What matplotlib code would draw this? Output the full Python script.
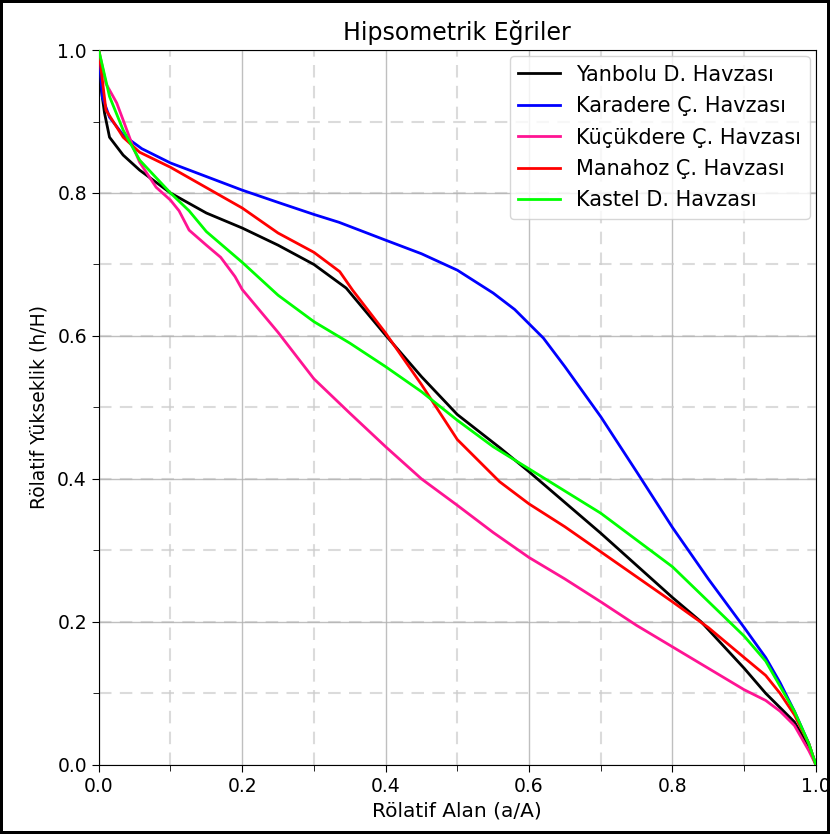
import matplotlib
matplotlib.use("Agg")
import matplotlib.pyplot as plt
from matplotlib.ticker import MultipleLocator

# Data (relative area a/A, relative height h/H)
yanbolu_x = [0, 0.008, 0.015, 0.034, 0.057, 0.1, 0.15, 0.2, 0.25, 0.3, 0.345, 0.4, 0.45, 0.5, 0.56, 0.6, 0.7, 0.8, 0.84, 0.9, 0.93, 0.95, 0.97, 0.99, 1.0]
yanbolu_y = [0.97, 0.912, 0.878, 0.853, 0.832, 0.800, 0.772, 0.751, 0.727, 0.700, 0.667, 0.601, 0.543, 0.490, 0.443, 0.410, 0.324, 0.234, 0.200, 0.135, 0.100, 0.080, 0.060, 0.025, 0.0]

karadere_x = [0, 0.005, 0.015, 0.034, 0.06, 0.1, 0.2, 0.2525, 0.3, 0.335, 0.4, 0.45, 0.5, 0.55, 0.58, 0.6, 0.62, 0.65, 0.7, 0.75, 0.8, 0.85, 0.9, 0.93, 0.95, 0.97, 0.99, 1.0]
karadere_y = [1.0, 0.934, 0.906, 0.881, 0.862, 0.842, 0.804, 0.786, 0.770, 0.759, 0.734, 0.715, 0.692, 0.660, 0.637, 0.617, 0.597, 0.557, 0.487, 0.410, 0.332, 0.260, 0.192, 0.150, 0.115, 0.075, 0.030, 0.0]

kucukdere_x = [0, 0.01, 0.025, 0.034, 0.048, 0.057, 0.08, 0.1, 0.112, 0.126, 0.15, 0.17, 0.19, 0.2, 0.25, 0.3, 0.35, 0.4, 0.45, 0.5, 0.55, 0.6, 0.65, 0.7, 0.75, 0.8, 0.85, 0.9, 0.93, 0.95, 0.97, 0.99, 1.0]
kucukdere_y = [1.0, 0.953, 0.926, 0.902, 0.864, 0.843, 0.808, 0.790, 0.775, 0.748, 0.727, 0.710, 0.683, 0.665, 0.605, 0.540, 0.492, 0.445, 0.400, 0.363, 0.325, 0.290, 0.260, 0.228, 0.195, 0.165, 0.135, 0.105, 0.090, 0.075, 0.055, 0.020, 0.0]

manahoz_x = [0, 0.01, 0.034, 0.057, 0.1, 0.2, 0.25, 0.3, 0.336, 0.354, 0.4, 0.45, 0.5, 0.559, 0.6, 0.65, 0.7, 0.75, 0.8, 0.85, 0.9, 0.93, 0.95, 0.97, 0.99, 1.0]
manahoz_y = [1.0, 0.916, 0.878, 0.857, 0.836, 0.779, 0.744, 0.717, 0.690, 0.664, 0.604, 0.532, 0.455, 0.396, 0.365, 0.333, 0.298, 0.263, 0.228, 0.192, 0.150, 0.125, 0.100, 0.070, 0.030, 0.0]

kastel_x = [0, 0.015, 0.034, 0.057, 0.1, 0.126, 0.15, 0.2, 0.25, 0.3, 0.35, 0.4, 0.45, 0.5, 0.55, 0.6, 0.7, 0.8, 0.9, 0.93, 0.95, 0.97, 0.99, 1.0]
kastel_y = [1.0, 0.935, 0.888, 0.846, 0.800, 0.775, 0.746, 0.703, 0.657, 0.620, 0.590, 0.557, 0.522, 0.482, 0.445, 0.414, 0.352, 0.277, 0.180, 0.145, 0.110, 0.075, 0.030, 0.0]

series = [
    ("Yanbolu D. Havzası", yanbolu_x, yanbolu_y, "black"),
    ("Karadere Ç. Havzası", karadere_x, karadere_y, "#0000ff"),
    ("Küçükdere Ç. Havzası", kucukdere_x, kucukdere_y, "#ff1493"),
    ("Manahoz Ç. Havzası", manahoz_x, manahoz_y, "#ff0000"),
    ("Kastel D. Havzası", kastel_x, kastel_y, "#00ff00"),
]

fig = plt.figure(figsize=(8.3, 8.34), dpi=100, edgecolor="black", linewidth=3)
ax = fig.add_axes([0.119, 0.083, 0.864, 0.857])

for name, xs, ys, c in series:
    ax.plot(xs, ys, color=c, lw=2, label=name, zorder=3)

ax.set_xlim(0, 1)
ax.set_ylim(0, 1)
ax.xaxis.set_major_locator(MultipleLocator(0.2))
ax.yaxis.set_major_locator(MultipleLocator(0.2))
ax.xaxis.set_minor_locator(MultipleLocator(0.1))
ax.yaxis.set_minor_locator(MultipleLocator(0.1))
ax.tick_params(which="major", labelsize=13.5, length=5)
ax.tick_params(which="minor", length=4)

ax.grid(True, which="major", color="#b0b0b0", linestyle="-", linewidth=1.0, alpha=0.8, zorder=0)
ax.grid(True, which="minor", color="#cccccc", linestyle="--", dashes=(6, 4), linewidth=1.5, alpha=0.7, zorder=0)
for v in [0.2, 0.4, 0.6, 0.8]:
    ax.axhline(v, color="#cccccc", linestyle="--", dashes=(6, 4), linewidth=1.5, alpha=0.7, zorder=0)

ax.set_title("Hipsometrik Eğriler", fontsize=17, pad=7)
ax.set_xlabel("Rölatif Alan (a/A)", fontsize=14.5, labelpad=4)
ax.set_ylabel("Rölatif Yükseklik (h/H)", fontsize=13.5, labelpad=6)
ax.legend(loc="upper right", fontsize=15, handlelength=2.0, labelspacing=0.55,
          borderaxespad=0.3)

fig.savefig("out.png", dpi=100, edgecolor=fig.get_edgecolor())
